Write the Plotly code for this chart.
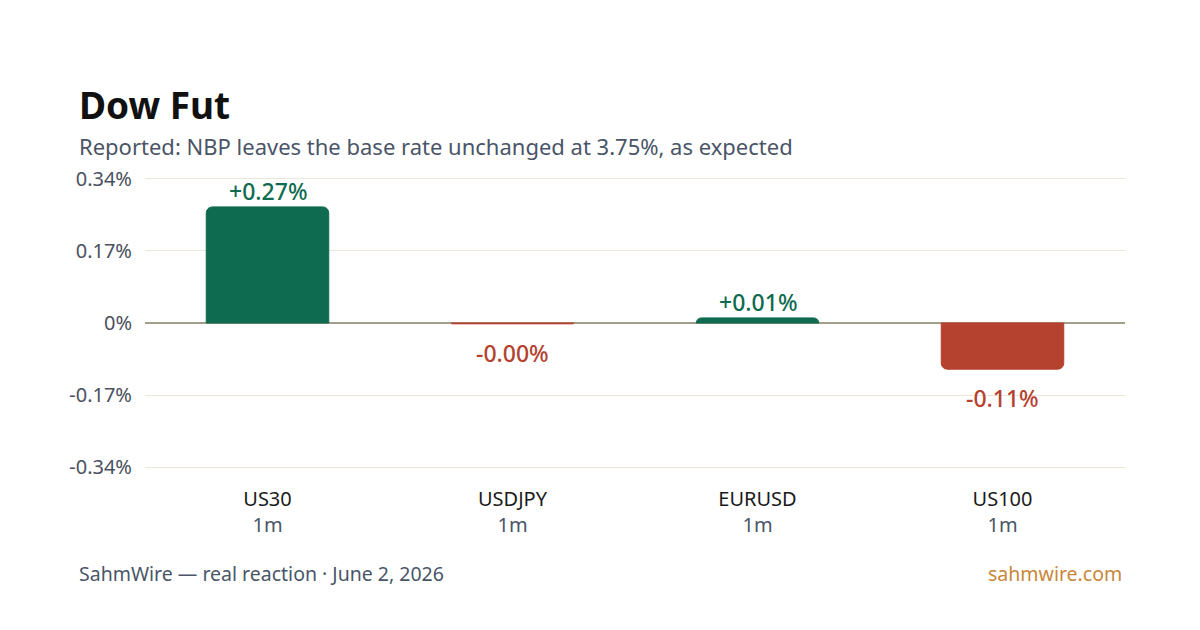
import plotly.graph_objects as go

categories = ["US30", "USDJPY", "EURUSD", "US100"]
horizons = ["1m", "1m", "1m", "1m"]
values = [0.274, -0.002, 0.012, -0.109]
labels = ["+0.27%", "-0.00%", "+0.01%", "-0.11%"]
tick_vals = [-0.34, -0.17, 0, 0.17, 0.34]
tick_text = ["-0.34%", "-0.17%", "0%", "0.17%", "0.34%"]

GREEN = "#0f6b4f"
RED = "#b5412f"
colors = [GREEN if v >= 0 else RED for v in values]

xlabels = [f"{c}<br><span style='color:#4a5568'>{h}</span>" for c, h in zip(categories, horizons)]

FONT = "Noto Sans"
W, H = 1200, 630
ML, MR, MT, MB = 145, 75, 177, 161
PW = W - ML - MR
PH = H - MT - MB


def px(x):
    return (x - ML) / PW


def py(y):
    return (H - MB - y) / PH


fig = go.Figure()
fig.add_trace(go.Bar(
    x=xlabels,
    y=values,
    width=0.5,
    marker=dict(color=colors, line=dict(color=colors, width=1)),
    cliponaxis=False,
    hoverinfo="skip",
))

annotations = []
for xl, v, lab, c in zip(xlabels, values, labels, colors):
    annotations.append(dict(
        x=xl, y=v, xref="x", yref="y", text=lab, showarrow=False,
        yanchor="middle", yshift=16 if v >= 0 else -29,
        font=dict(family=FONT, size=23, color=c, weight=500),
    ))

meta = [
    dict(text="<b>Dow Fut</b>", x=px(77), y=py(105),
         font=dict(family=FONT, size=37, color="#111111"), xanchor="left"),
    dict(text="Reported: NBP leaves the base rate unchanged at 3.75%, as expected",
         x=px(77), y=py(146),
         font=dict(family=FONT, size=22, color="#4a5568"), xanchor="left"),
    dict(text="SahmWire — real reaction · June 2, 2026",
         x=px(77), y=py(573),
         font=dict(family=FONT, size=19.5, color="#4a5568"), xanchor="left"),
    dict(text="sahmwire.com",
         x=px(1124), y=py(573),
         font=dict(family=FONT, size=19.5, color="#c8873a"), xanchor="right"),
]
for a in meta:
    a.update(xref="paper", yref="paper", showarrow=False, yanchor="middle")
annotations += meta

fig.update_layout(
    width=W,
    height=H,
    margin=dict(l=ML, r=MR, t=MT, b=MB),
    paper_bgcolor="white",
    plot_bgcolor="white",
    showlegend=False,
    barcornerradius=6,
    font=dict(family=FONT),
    xaxis=dict(
        showgrid=False,
        tickfont=dict(family=FONT, size=20, color="#1a1a1a"),
        ticks="",
        showline=False,
        ticklabelstandoff=16,
    ),
    yaxis=dict(
        range=[-0.3445, 0.3445],
        tickvals=tick_vals,
        ticktext=tick_text,
        tickfont=dict(family=FONT, size=20, color="#4a5060"),
        gridcolor="#ebe6d8",
        gridwidth=1,
        zeroline=True,
        zerolinecolor="#a39d8c",
        zerolinewidth=2,
        ticks="",
        ticklabelstandoff=12,
    ),
    annotations=annotations,
)

fig.write_html("out.html")
